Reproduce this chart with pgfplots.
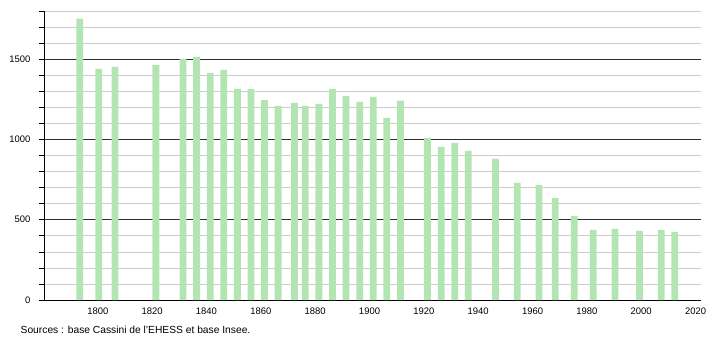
\documentclass[border=0pt]{standalone}
\usepackage{fontspec}
\setmainfont{Liberation Sans}
\usepackage{pgfplots}
\pgfplotsset{compat=1.18}
\definecolor{barg}{RGB}{179,229,179}
\definecolor{minorg}{RGB}{204,204,204}
\definecolor{majorg}{RGB}{45,45,45}
\begin{document}
\begin{tikzpicture}
\useasboundingbox (0,0) rectangle (710bp,340bp);
\begin{axis}[
  at={(44bp,40bp)}, anchor=south west,
  scale only axis, width=657bp, height=289bp,
  xmin=1780.2, xmax=2022, ymin=0, ymax=1800,
  axis x line*=bottom, axis y line*=left,
  axis line style={black, line width=0.8pt},
  xtick={1800,1820,...,2020}, major x tick style={draw=none},
  ytick={0,500,1000,1500}, minor ytick={100,200,...,1800},
  ymajorgrids, yminorgrids,
  major grid style={majorg, line width=0.6pt},
  minor grid style={minorg, line width=0.6pt},
  tick align=outside,
  major tick length=5bp, minor tick length=5bp,
  y tick style={black, line width=0.6pt},
  /pgf/number format/assume math mode=true,
  /pgf/number format/1000 sep={},
  tick label style={font=\fontsize{9.5}{11}\selectfont},
  yticklabel style={xshift=-5bp},
  xticklabel style={yshift=1bp},
  clip=false,
]
\addplot[ybar, bar width=2.5, bar shift=1bp, fill=barg, draw=none] coordinates {
(1793,1752) (1800,1440) (1806,1452) (1821,1465) (1831,1502) (1836,1515)
(1841,1415) (1846,1434) (1851,1315) (1856,1315) (1861,1247) (1866,1209)
(1872,1228) (1876,1209) (1881,1222) (1886,1315) (1891,1272) (1896,1234)
(1901,1265) (1906,1135) (1911,1241) (1921,1010) (1926,954) (1931,979)
(1936,929) (1946,879) (1954,729) (1962,717) (1968,636) (1975,524)
(1982,436) (1990,443) (1999,430) (2007,436) (2012,424)
};
\end{axis}
\node[anchor=west, inner sep=0pt, font=\fontsize{10.3}{12}\selectfont] at (20.5bp,10bp) {Sources : base Cassini de l'EHESS et base Insee.};
\end{tikzpicture}
\end{document}
